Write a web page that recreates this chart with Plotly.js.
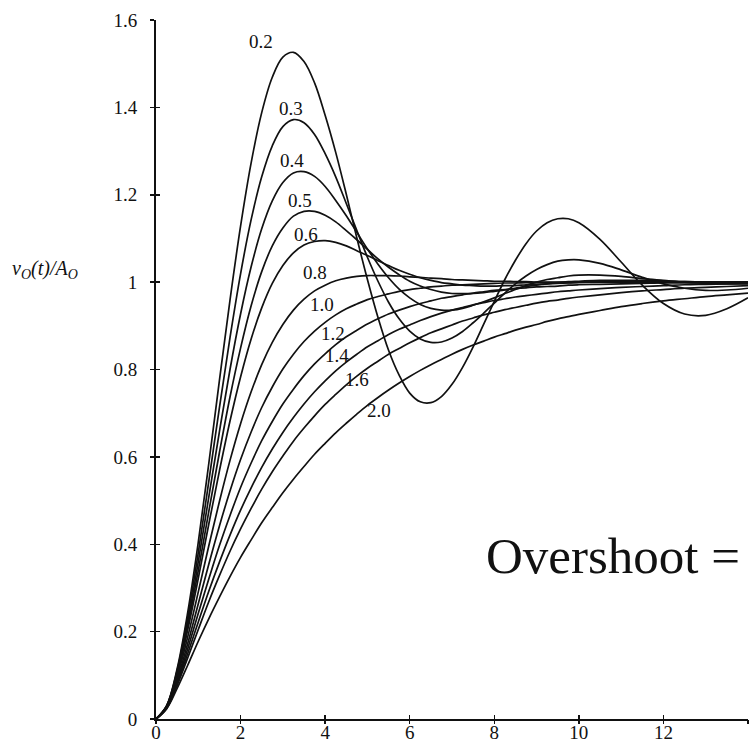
<!DOCTYPE html>
<html>
<head>
<meta charset="utf-8">
<script src="https://cdn.plot.ly/plotly-3.0.1.min.js"></script>
<style>html,body{margin:0;padding:0;background:#fff;overflow:hidden}</style>
</head>
<body>
<div id="chart" style="width:752px;height:741px"></div>
<script>
// time axis (normalised, ωn = 1)
const t = [0, 0.25, 0.5, 0.75, 1, 1.25, 1.5, 1.75, 2, 2.25, 2.5, 2.75, 3, 3.25, 3.5, 3.75, 4, 4.25, 4.5, 4.75,
           5, 5.25, 5.5, 5.75, 6, 6.25, 6.5, 6.75, 7, 7.25, 7.5, 7.75, 8, 8.25, 8.5, 8.75, 9, 9.25, 9.5, 9.75,
           10, 10.5, 11, 11.5, 12, 12.5, 13, 13.5, 14];

// damping-ratio labels
const zetaLabels = ['0.2', '0.3', '0.4', '0.5', '0.6', '0.8', '1.0', '1.2', '1.4', '1.6', '2.0'];

// vo(t)/Ao
const z02 = [0, 0.030, 0.115, 0.244, 0.405, 0.586, 0.775, 0.959, 1.128, 1.273, 1.388, 1.469, 1.515, 1.526, 1.505, 1.456, 1.382, 1.297, 1.201, 1.101,
             1.006, 0.919, 0.844, 0.787, 0.746, 0.726, 0.724, 0.738, 0.766, 0.805, 0.852, 0.904, 0.956, 1.006, 1.050, 1.088, 1.117, 1.136, 1.145, 1.145,
             1.136, 1.098, 1.046, 0.993, 0.951, 0.927, 0.924, 0.939, 0.964];
const z03 = [0, 0.030, 0.111, 0.233, 0.381, 0.545, 0.713, 0.873, 1.019, 1.143, 1.241, 1.312, 1.356, 1.372, 1.365, 1.338, 1.294, 1.241, 1.180, 1.118,
             1.057, 1.002, 0.954, 0.916, 0.888, 0.870, 0.862, 0.863, 0.872, 0.887, 0.907, 0.929, 0.952, 0.975, 0.996, 1.014, 1.029, 1.040, 1.048, 1.051,
             1.051, 1.043, 1.028, 1.011, 0.996, 0.986, 0.981, 0.982, 0.986];
const z04 = [0, 0.029, 0.108, 0.222, 0.360, 0.509, 0.658, 0.800, 0.927, 1.035, 1.122, 1.186, 1.228, 1.250, 1.253, 1.242, 1.219, 1.187, 1.152, 1.114,
             1.076, 1.041, 1.010, 0.984, 0.964, 0.949, 0.940, 0.936, 0.936, 0.940, 0.947, 0.955, 0.964, 0.974, 0.983, 0.992, 1.000, 1.006, 1.010, 1.014,
             1.016, 1.016, 1.013, 1.008, 1.004, 1.000, 0.997, 0.996, 0.996];
const z05 = [0, 0.029, 0.104, 0.213, 0.340, 0.476, 0.610, 0.737, 0.849, 0.946, 1.024, 1.083, 1.124, 1.151, 1.162, 1.162, 1.153, 1.138, 1.118, 1.097,
             1.075, 1.053, 1.034, 1.017, 1.002, 0.991, 0.983, 0.977, 0.974, 0.974, 0.974, 0.976, 0.979, 0.982, 0.986, 0.990, 0.993, 0.996, 0.999, 1.001,
             1.002, 1.004, 1.004, 1.004, 1.003, 1.001, 1.000, 1.000, 0.999];
const z06 = [0, 0.028, 0.101, 0.204, 0.322, 0.447, 0.568, 0.682, 0.783, 0.870, 0.941, 0.997, 1.038, 1.067, 1.085, 1.093, 1.095, 1.091, 1.083, 1.072,
             1.061, 1.049, 1.038, 1.027, 1.018, 1.010, 1.004, 0.999, 0.996, 0.993, 0.992, 0.991, 0.991, 0.992, 0.992, 0.994, 0.995, 0.996, 0.997, 0.998,
             0.999, 1.000, 1.001, 1.001, 1.001, 1.001, 1.000, 1.000, 1.000];
const z08 = [0, 0.027, 0.096, 0.188, 0.291, 0.397, 0.498, 0.592, 0.676, 0.749, 0.811, 0.862, 0.903, 0.936, 0.961, 0.980, 0.993, 1.003, 1.009, 1.013,
             1.015, 1.015, 1.015, 1.014, 1.012, 1.011, 1.009, 1.008, 1.006, 1.005, 1.004, 1.003, 1.002, 1.002, 1.001, 1.001, 1.000, 1.000, 1.000, 1.000,
             1.000, 1.000, 1.000, 1.000, 1.000, 1.000, 1.000, 1.000, 1.000];
const z10 = [0, 0.027, 0.090, 0.173, 0.264, 0.355, 0.442, 0.522, 0.594, 0.657, 0.713, 0.760, 0.801, 0.835, 0.864, 0.888, 0.908, 0.925, 0.939, 0.950,
             0.960, 0.967, 0.973, 0.979, 0.983, 0.986, 0.989, 0.991, 0.993, 0.994, 0.995, 0.996, 0.997, 0.998, 0.998, 0.999, 0.999, 0.999, 0.999, 0.999,
             1.000, 1.000, 1.000, 1.000, 1.000, 1.000, 1.000, 1.000, 1.000];
const z12 = [0, 0.026, 0.085, 0.161, 0.242, 0.321, 0.397, 0.466, 0.530, 0.586, 0.637, 0.681, 0.721, 0.755, 0.786, 0.813, 0.836, 0.857, 0.875, 0.890,
             0.904, 0.916, 0.927, 0.936, 0.944, 0.951, 0.957, 0.963, 0.967, 0.971, 0.975, 0.978, 0.981, 0.983, 0.985, 0.987, 0.989, 0.990, 0.991, 0.993,
             0.994, 0.995, 0.996, 0.997, 0.998, 0.998, 0.999, 0.999, 0.999];
const z14 = [0, 0.025, 0.081, 0.150, 0.222, 0.293, 0.359, 0.421, 0.478, 0.529, 0.576, 0.618, 0.656, 0.690, 0.721, 0.749, 0.774, 0.797, 0.817, 0.835,
             0.852, 0.866, 0.880, 0.892, 0.902, 0.912, 0.921, 0.929, 0.936, 0.942, 0.948, 0.953, 0.958, 0.962, 0.966, 0.969, 0.972, 0.975, 0.978, 0.980,
             0.982, 0.985, 0.988, 0.990, 0.992, 0.994, 0.995, 0.996, 0.997];
const z16 = [0, 0.024, 0.077, 0.140, 0.205, 0.269, 0.328, 0.384, 0.435, 0.482, 0.526, 0.566, 0.602, 0.636, 0.666, 0.694, 0.720, 0.743, 0.765, 0.785,
             0.803, 0.819, 0.835, 0.848, 0.861, 0.873, 0.884, 0.893, 0.902, 0.911, 0.918, 0.925, 0.931, 0.937, 0.942, 0.947, 0.952, 0.956, 0.959, 0.963,
             0.966, 0.971, 0.976, 0.980, 0.983, 0.986, 0.988, 0.990, 0.992];
const z20 = [0, 0.023, 0.070, 0.123, 0.178, 0.230, 0.279, 0.326, 0.370, 0.410, 0.449, 0.484, 0.518, 0.549, 0.578, 0.606, 0.631, 0.655, 0.677, 0.698,
             0.718, 0.736, 0.753, 0.769, 0.784, 0.798, 0.811, 0.823, 0.835, 0.846, 0.856, 0.865, 0.874, 0.882, 0.890, 0.897, 0.903, 0.910, 0.916, 0.921,
             0.926, 0.935, 0.944, 0.951, 0.957, 0.962, 0.967, 0.971, 0.975];

// tick values / labels
const xTicks = [0, 2, 4, 6, 8, 10, 12, 14];
const xTickText = ['0', '2', '4', '6', '8', '10', '12', '14'];
const yTicks = [0, 0.2, 0.4, 0.6, 0.8, 1, 1.2, 1.4, 1.6];
const yTickText = ['0', '0.2', '0.4', '0.6', '0.8', '1', '1.2', '1.4', '1.6'];

const series = [z02, z03, z04, z05, z06, z08, z10, z12, z14, z16, z20];

const FONT = "'Liberation Serif', 'Times New Roman', serif";
const INK = '#111';

const traces = series.map((ys, i) => ({
  type: 'scatter', mode: 'lines', x: t, y: ys, name: zetaLabels[i],
  line: {color: INK, width: 1.7, shape: 'spline', smoothing: 1},
  hoverinfo: 'skip', showlegend: false
}));
// dummy trace on the overlay axes (outer half of the crossing ticks)
traces.push({type: 'scatter', mode: 'lines', x: [null], y: [null], xaxis: 'x2', yaxis: 'y2', showlegend: false, hoverinfo: 'skip'});

// label positions (data coordinates) for each curve
const labelPos = [
  [2.48, 1.550], [3.19, 1.398], [3.22, 1.279], [3.41, 1.186], [3.55, 1.108],
  [3.76, 1.023], [3.93, 0.948], [4.19, 0.883], [4.28, 0.831], [4.75, 0.776], [5.27, 0.707]
];

const annotations = zetaLabels.map((lab, i) => ({
  x: labelPos[i][0], y: labelPos[i][1], xref: 'x', yref: 'y', text: lab,
  showarrow: false, xanchor: 'center', yanchor: 'middle',
  font: {family: FONT, size: 19, color: INK}
}));

annotations.push({
  xref: 'paper', yref: 'y', x: -0.2466, y: 1.028, xanchor: 'left', yanchor: 'middle',
  text: '<i>v<sub>O</sub>(t)/A<sub>O</sub></i>', showarrow: false,
  font: {family: FONT, size: 20, color: INK}
});

annotations.push({
  xref: 'x', yref: 'y', x: 7.76, y: 0.382, xanchor: 'left', yanchor: 'middle',
  text: 'Overshoot =\u2009e<sup>−πζ/√(1−ζ²)</sup>', showarrow: false,
  font: {family: FONT, size: 51, color: INK}
});

const axisCommon = {showgrid: false, zeroline: false, fixedrange: true};

const layout = {
  width: 752, height: 741,
  margin: {l: 156, r: 4, t: 20, b: 22, pad: 0},
  paper_bgcolor: '#fff', plot_bgcolor: '#fff',
  showlegend: false,
  font: {family: FONT, color: INK},
  xaxis: Object.assign({}, axisCommon, {
    range: [0, 14], tickmode: 'array', tickvals: xTicks, ticktext: xTickText,
    ticks: 'inside', ticklen: 4, tickwidth: 1.5, tickcolor: INK,
    showline: true, linewidth: 2, linecolor: INK,
    tickfont: {family: FONT, size: 19, color: INK}, ticklabelstandoff: -5
  }),
  yaxis: Object.assign({}, axisCommon, {
    range: [0, 1.6], tickmode: 'array', tickvals: yTicks, ticktext: yTickText,
    ticks: 'outside', ticklen: 4, tickwidth: 1.5, tickcolor: INK,
    showline: true, linewidth: 2, linecolor: INK,
    tickfont: {family: FONT, size: 19, color: INK}, ticklabelstandoff: 9
  }),
  xaxis2: Object.assign({}, axisCommon, {
    overlaying: 'x', anchor: 'y', side: 'bottom',
    range: [0, 14], tickmode: 'array', tickvals: xTicks,
    ticks: 'outside', ticklen: 4, tickwidth: 1.5, tickcolor: INK,
    showticklabels: false, showline: false
  }),
  yaxis2: Object.assign({}, axisCommon, {
    overlaying: 'y', anchor: 'x', side: 'left',
    range: [0, 1.6], tickmode: 'array', tickvals: yTicks,
    ticks: 'inside', ticklen: 4, tickwidth: 1.5, tickcolor: INK,
    showticklabels: false, showline: false
  }),
  annotations: annotations
};

Plotly.newPlot('chart', traces, layout, {displayModeBar: false, staticPlot: true});
</script>
</body>
</html>
